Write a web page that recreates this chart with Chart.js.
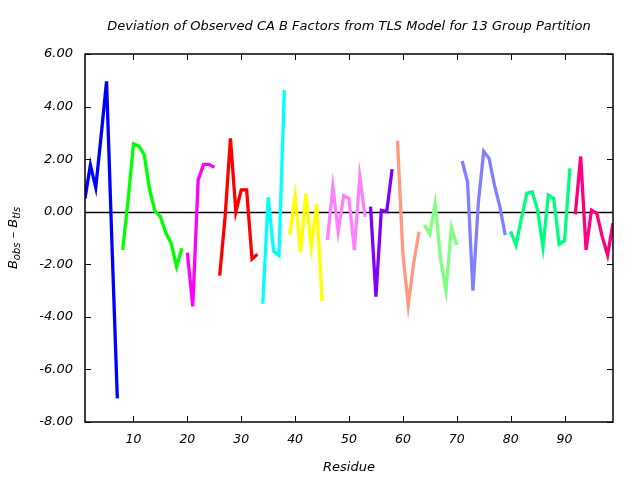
<!DOCTYPE html>
<html>
<head>
<meta charset="utf-8">
<script src="https://cdn.jsdelivr.net/npm/chart.js@4/dist/chart.umd.min.js"></script>
<style>
html,body{margin:0;padding:0;background:#fff;}
#wrap{width:640px;height:480px;}
</style>
</head>
<body>
<div id="wrap"><canvas id="c" width="640" height="480"></canvas></div>
<script>
// ---- data ----
const titleText = "Deviation of Observed CA B Factors from TLS Model for 13 Group Partition";
const xTitle = "Residue";
const xTicks = [10, 20, 30, 40, 50, 60, 70, 80, 90];
const yTicks = [-8, -6, -4, -2, 0, 2, 4, 6];
const groupStarts = [1, 8, 20, 26, 34, 39, 46, 54, 59, 64, 71, 80, 92];
const g1 = [0.5, 1.78, 0.92, 2.9, 4.96, -1.2, -7.1];
const g2 = [-1.45, 0.45, 2.58, 2.5, 2.16, 0.83, 0.02, -0.19, -0.8, -1.2, -2.09, -1.39];
const g3 = [-1.56, -3.6, 1.2, 1.8, 1.8, 1.69];
const g4 = [-2.43, -0.2, 2.79, 0.0, 0.83, 0.83, -1.8, -1.62];
const g5 = [-3.5, 0.55, -1.5, -1.66, 4.62];
const g6 = [-0.89, 0.6, -1.55, 0.7, -1.35, 0.28, -3.4];
const g7 = [-1.08, 0.95, -0.76, 0.61, 0.5, -1.46, 1.33, -0.19];
const g8 = [0.19, -3.23, 0.05, 0.0, 1.62];
const g9 = [2.7, -1.6, -3.55, -1.96, -0.76];
const g10 = [-0.5, -0.85, 0.3, -1.8, -3.0, -0.6, -1.27];
const g11 = [1.93, 1.14, -3.0, 0.32, 2.3, 2.03, 1.01, 0.19, -0.89];
const g12 = [-0.75, -1.27, -0.25, 0.7, 0.76, 0.06, -1.35, 0.63, 0.5, -1.24, -1.1, 1.65];
const g13 = [-0.1, 2.1, -1.45, 0.06, -0.06, -0.95, -1.65, -0.44];
const groupValues = [g1, g2, g3, g4, g5, g6, g7, g8, g9, g10, g11, g12, g13];
const groupColors = ["#0000ff", "#00ff00", "#ff00ff", "#ff0000", "#00ffff", "#ffff00",
  "#ff80ff", "#8000ff", "#ff9980", "#80ff80", "#8080ff", "#00ff80", "#ff0080"];

const FONT = "'DejaVu Sans', 'Open Sans', sans-serif";

const datasets = groupValues.map((vals, gi) => ({
  data: vals.map((v, i) => ({ x: groupStarts[gi] + i, y: v })),
  borderColor: groupColors[gi],
  borderWidth: 3.3,
  pointRadius: 0,
  tension: 0,
  fill: false,
  borderCapStyle: 'butt',
  borderJoinStyle: 'miter'
}));

const framePlugin = {
  id: 'frame',
  beforeDatasetsDraw(chart) {
    const { ctx, chartArea: a, scales } = chart;
    const y0 = Math.round(scales.y.getPixelForValue(0)) + 0.5;
    ctx.save();
    ctx.strokeStyle = '#000';
    ctx.lineWidth = 1.5;
    ctx.beginPath();
    ctx.moveTo(a.left, y0);
    ctx.lineTo(a.right, y0);
    ctx.stroke();
    ctx.restore();
  },
  afterDatasetsDraw(chart) {
    const { ctx, chartArea: a, scales } = chart;
    ctx.save();
    ctx.strokeStyle = '#000';
    ctx.lineWidth = 1.5;
    ctx.strokeRect(a.left, a.top, a.right - a.left, a.bottom - a.top);
    const tl = 6;
    ctx.beginPath();
    xTicks.forEach(v => {
      const px = Math.round(scales.x.getPixelForValue(v)) + 0.5;
      ctx.moveTo(px, a.bottom); ctx.lineTo(px, a.bottom - tl);
      ctx.moveTo(px, a.top); ctx.lineTo(px, a.top + tl);
    });
    yTicks.forEach(v => {
      const py = Math.round(scales.y.getPixelForValue(v)) + 0.5;
      ctx.moveTo(a.left, py); ctx.lineTo(a.left + tl, py);
      ctx.moveTo(a.right, py); ctx.lineTo(a.right - tl, py);
    });
    ctx.lineWidth = 1;
    ctx.stroke();
    ctx.restore();
  },
  afterDraw(chart) {
    const { ctx, chartArea: a } = chart;
    ctx.save();
    // title
    ctx.fillStyle = '#000';
    ctx.font = "italic 13px " + FONT;
    ctx.textAlign = 'center';
    ctx.textBaseline = 'middle';
    ctx.fillText(titleText, (a.left + a.right) / 2, 27);
    // y-axis title with subscripts
    const parts = [
      { t: 'B', sub: false }, { t: 'obs', sub: true },
      { t: ' \u2013 B', sub: false }, { t: 'tls', sub: true }
    ];
    const bigFont = "italic 13px " + FONT;
    const smallFont = "italic 10px " + FONT;
    let total = 0;
    parts.forEach(p => { ctx.font = p.sub ? smallFont : bigFont; p.w = ctx.measureText(p.t).width; total += p.w; });
    ctx.translate(14, 238);
    ctx.rotate(-Math.PI / 2);
    ctx.textAlign = 'left';
    ctx.textBaseline = 'middle';
    let x = -total / 2;
    parts.forEach(p => {
      ctx.font = p.sub ? smallFont : bigFont;
      ctx.fillText(p.t, x, p.sub ? 3 : 0);
      x += p.w;
    });
    ctx.restore();
  }
};

new Chart(document.getElementById('c'), {
  type: 'line',
  data: { datasets },
  options: {
    responsive: false,
    animation: false,
    layout: { padding: { top: 54, right: 27, left: 0, bottom: 0 } },
    plugins: { legend: { display: false }, tooltip: { enabled: false }, title: { display: false } },
    scales: {
      x: {
        type: 'linear',
        min: 1, max: 99,
        grid: { display: false, drawTicks: false },
        border: { display: false },
        afterBuildTicks(scale) { scale.ticks = xTicks.map(v => ({ value: v })); },
        afterFit(scale) { scale.height = 58; },
        ticks: {
          padding: 10,
          color: '#000',
          font: { family: FONT, size: 12.5, style: 'italic' },
          callback: v => String(v),
          maxRotation: 0, autoSkip: false
        },
        title: {
          display: true, text: xTitle, color: '#000',
          font: { family: FONT, size: 13, style: 'italic' },
          padding: { top: 0, bottom: 5 }
        }
      },
      y: {
        type: 'linear',
        min: -8, max: 6,
        grid: { display: false, drawTicks: false },
        border: { display: false },
        afterBuildTicks(scale) { scale.ticks = yTicks.map(v => ({ value: v })); },
        afterFit(scale) { scale.width = 85; },
        ticks: {
          padding: 12,
          color: '#000',
          font: { family: FONT, size: 13, style: 'italic' },
          callback: v => Number(v).toFixed(2),
          autoSkip: false
        }
      }
    }
  },
  plugins: [framePlugin]
});
</script>
</body>
</html>
